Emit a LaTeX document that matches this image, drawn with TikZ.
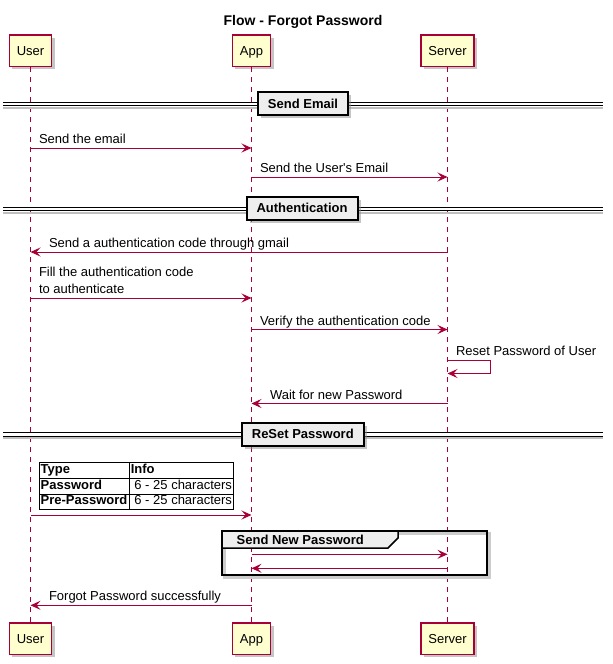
\documentclass[tikz,border=0pt]{standalone}
\usepackage{fontspec}
\setmainfont{Liberation Sans}
\usetikzlibrary{arrows.meta,shadows}
\definecolor{umlred}{HTML}{A80036}
\definecolor{umlfill}{HTML}{FEFECE}
\definecolor{umlgrey}{HTML}{EEEEEE}
\tikzset{
	>={Stealth[length=10pt,width=9pt,inset=4pt]}
}

\begin{document}
\begin{tikzpicture}[
x = 1pt,
y = -1pt,
every node/.style = {
	font = \fontsize{13}{15.6}\selectfont
},
title/.style = {
	font = \fontsize{14}{17}\selectfont\bfseries
},
actor/.style = {
	draw = umlred,
	fill = umlfill,
	line width = 1.5pt,
	minimum height = 31.5pt,
	inner xsep = 7.5pt,
	text height = 9.3pt,
	text depth = 0pt,
	drop shadow = {shadow xshift = 3pt, shadow yshift = -3pt, fill = black!45, opacity = 0.5}
},
life/.style = {
	umlred,
	line width = 1pt,
	dash pattern = on 5pt off 5pt
},
msg/.style = {
	->,
	umlred,
	line width = 1pt
},
lbl/.style = {
	pos = 0,
	anchor = base west,
	inner sep = 0pt,
	xshift = 8pt,
	yshift = 4.5pt,
	text = black
},
back lbl/.style = {
	lbl,
	pos = 1,
	xshift = 10pt
},
sepline/.style = {
	double = white,
	double distance = 2.4pt,
	line width = 1pt,
	preaction = {draw = black!25, line width = 2pt, transform canvas = {yshift = -3.6pt}}
},
sepbox/.style = {
	draw,
	fill = umlgrey,
	line width = 2pt,
	font = \fontsize{13}{15.6}\selectfont\bfseries,
	minimum height = 23pt,
	inner xsep = 10pt,
	text height = 9.5pt,
	text depth = 0pt,
	drop shadow = {shadow xshift = 3pt, shadow yshift = -3pt, fill = black!45, opacity = 0.5}
},
grpframe/.style = {
	draw,
	line width = 2pt
},
grpshade/.style = {
	draw = black!20,
	line width = 2.5pt
},
grptab/.style = {
	draw,
	fill = umlgrey,
	line width = 1.5pt
},
grptitle/.style = {
	font = \fontsize{13}{15.6}\selectfont\bfseries,
	inner sep = 0pt
}
]

\path[use as bounding box, fill = white] (0,0) rectangle (613,664);

\node [title, anchor = base] (title) at (303,25) {Flow - Forgot Password};

% participants
\node [actor] (user) at (30.5,50.5) {User};
\node [actor] (app) at (251.5,50.5) {App};
\node [actor] (server) at (447.5,50.5) {Server};

\node [actor] (userB) at (30.5,638.5) {User};
\node [actor] (appB) at (251.5,638.5) {App};
\node [actor] (serverB) at (447.5,638.5) {Server};

\draw[life] (user) -- (userB);
\draw[life] (app) -- (appB);
\draw[life] (server) -- (serverB);

% dividers
\draw[sepline] (3,104) -- (603,104);
\node [sepbox] (sepmail) at (303,103.5) {Send Email};

\draw[sepline] (3,209.2) -- (603,209.2);
\node [sepbox] (sepauth) at (302,208) {Authentication};

\draw[sepline] (3,434.4) -- (603,434.4);
\node [sepbox] (sepreset) at (302.8,434.2) {ReSet Password};

% Send Email
\draw[msg] (user |- 0,148) -- node[lbl] {Send the email} (app |- 0,148);
\draw[msg] (app |- 0,177) -- node[lbl] {Send the User\textquotesingle s Email} (server |- 0,177);

% Authentication
\draw[msg] (server |- 0,252) -- node[back lbl] {Send a authentication code through gmail} (user |- 0,252);
\draw[msg] (user |- 0,298) -- node[lbl, anchor = south west, yshift = -0.5pt, align = left,
	font = \fontsize{13}{16.8}\selectfont] {Fill the authentication code\\to authenticate} (app |- 0,298);
\draw[msg] (app |- 0,329.5) -- node[lbl] {Verify the authentication code} (server |- 0,329.5);
\draw[msg] (server |- 0,360.3) -- node[lbl] {Reset Password of User} ++(42.5,0) |- (server |- 0,373.5);
\draw[msg] (server |- 0,403.5) -- node[back lbl] {Wait for new Password} (app |- 0,403.5);

% ReSet Password
\draw[msg] (user |- 0,515) -- node[lbl, anchor = south west, yshift = 4.3pt - 4.5pt,
	font = \fontsize{13}{14.6}\selectfont] (pwtable) {%
	\setlength\tabcolsep{1.7pt}\setlength\arrayrulewidth{1pt}%
	\begin{tabular}{|l|l|}\hline
	\textbf{Type} & \textbf{Info}\\\hline
	\textbf{Password} & \ 6 - 25 characters\\\hline
	\textbf{Pre-Password} & \ 6 - 25 characters\\\hline
	\end{tabular}} (app |- 0,515);

\draw[grpshade] (224.5,533.5) rectangle (489.5,577.5);
\draw[grpframe] (222,531) rectangle (487,575);
\draw[grptab] (222,531) -- (398,531) -- (398,538) -- (388,548) -- (222,548) -- cycle;
\node [grptitle, anchor = base west] (grpname) at (236.5,544) {Send New Password};

\draw[msg] (app |- 0,554.3) -- (server |- 0,554.3);
\draw[msg] (server |- 0,568.3) -- (app |- 0,568.3);

\draw[msg] (app |- 0,605.3) -- node[back lbl] {Forgot Password successfully} (user |- 0,605.3);

\end{tikzpicture}
\end{document}
